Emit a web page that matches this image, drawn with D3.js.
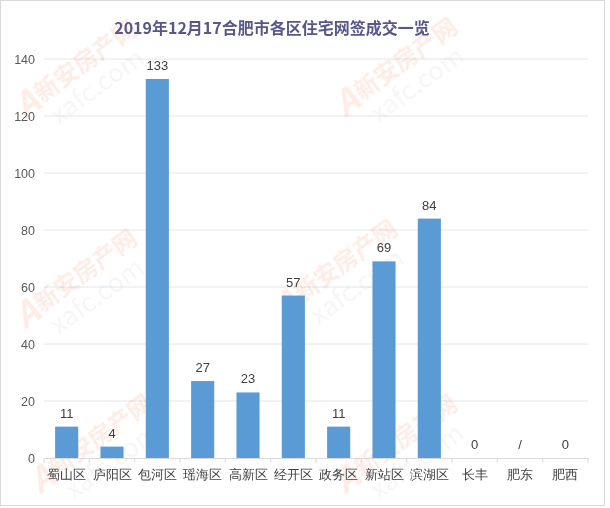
<!DOCTYPE html>
<html>
<head>
<meta charset="utf-8">
<script src="https://cdn.jsdelivr.net/npm/d3@7"></script>
<style>
  body { margin: 0; background: #fff; }
  svg { font-family: "Noto Sans CJK SC", "Liberation Sans", sans-serif; }
</style>
</head>
<body>
<svg id="chart"></svg>
<script>
const categories = ["蜀山区", "庐阳区", "包河区", "瑶海区", "高新区", "经开区", "政务区", "新站区", "滨湖区", "长丰", "肥东", "肥西"];
const values = [11, 4, 133, 27, 23, 57, 11, 69, 84, 0, null, 0];
const valueLabels = ["11", "4", "133", "27", "23", "57", "11", "69", "84", "0", "/", "0"];
const yTicks = [0, 20, 40, 60, 80, 100, 120, 140];
const title = "2019年12月17合肥市各区住宅网签成交一览";

const w = 610, h = 508;
const margin = { top: 59, right: 22, bottom: 50, left: 44 };

const svg = d3.select("#chart").attr("width", w).attr("height", h);

// frame
svg.append("rect")
  .attr("x", 0.5).attr("y", 0.5)
  .attr("width", w - 6).attr("height", h - 3)
  .attr("fill", "#fff").attr("stroke", "#d9d9d9");

const xscale = d3.scaleBand()
  .domain(categories)
  .range([margin.left, w - margin.right])
  .paddingInner(0.49)
  .paddingOuter(0.245);

const yscale = d3.scaleLinear()
  .domain([0, 140])
  .range([h - margin.bottom, margin.top]);

// gridlines
svg.append("g")
  .selectAll("line")
  .data(yTicks.filter(d => d > 0))
  .join("line")
  .attr("x1", margin.left).attr("x2", w - margin.right)
  .attr("y1", d => yscale(d)).attr("y2", d => yscale(d))
  .attr("stroke", "#e3e6ec").attr("stroke-width", 1);

// watermark
const wm = svg.append("g").attr("opacity", 0.12).attr("fill", "#f0642a");
[[25, 120], [345, 118], [25, 330], [285, 320], [40, 495], [345, 495]].forEach(([x, y]) => {
  const g = wm.append("g").attr("transform", `translate(${x},${y}) rotate(-36)`);
  g.append("text").attr("font-size", 34).attr("font-weight", "bold").attr("font-style", "italic").text("A");
  g.append("text").attr("x", 24).attr("y", -4).attr("font-size", 24).attr("font-weight", "bold").text("新安房产网");
  g.append("text").attr("x", 24).attr("y", 24).attr("font-size", 26).attr("fill", "#b0b0b0").text("xafc.com");
});

// y axis
const yAxis = d3.axisLeft(yscale).tickValues(yTicks).tickSize(0).tickPadding(9);
svg.append("g")
  .attr("transform", `translate(${margin.left},0)`)
  .call(yAxis)
  .call(g => g.select(".domain").remove())
  .call(g => g.selectAll("text")
    .attr("fill", "#595959")
    .attr("font-size", 12.5)
    .attr("font-family", "Liberation Sans, sans-serif"));

// x axis
const xAxis = d3.axisBottom(xscale).tickSize(0).tickPadding(12).tickSizeOuter(0);
const xg = svg.append("g")
  .attr("transform", `translate(0,${yscale(0)})`)
  .call(xAxis);
xg.select(".domain").attr("stroke", "#d9d9d9");
xg.selectAll("text").attr("fill", "#404040").attr("font-size", 12.5);
xg.selectAll(".sep")
  .data(d3.range(categories.length + 1))
  .join("line")
  .attr("class", "sep")
  .attr("x1", i => margin.left + i * xscale.step())
  .attr("x2", i => margin.left + i * xscale.step())
  .attr("y1", 0).attr("y2", 5)
  .attr("stroke", "#d9d9d9");

// bars
svg.append("g")
  .attr("fill", "#5b9bd5")
  .selectAll("rect")
  .data(categories.keys())
  .join("rect")
  .attr("x", i => xscale(categories[i]))
  .attr("y", i => yscale(values[i] || 0))
  .attr("width", xscale.bandwidth())
  .attr("height", i => yscale(0) - yscale(values[i] || 0));

// value labels
svg.append("g")
  .selectAll("text")
  .data(categories.keys())
  .join("text")
  .attr("x", i => xscale(categories[i]) + xscale.bandwidth() / 2)
  .attr("y", i => yscale(values[i] || 0) - 9)
  .attr("text-anchor", "middle")
  .attr("fill", "#404040")
  .attr("font-size", 13)
  .attr("font-family", "Liberation Sans, sans-serif")
  .text(i => valueLabels[i]);

// title
svg.append("text")
  .attr("x", 272).attr("y", 34)
  .attr("text-anchor", "middle")
  .attr("font-size", 16)
  .attr("font-weight", "bold")
  .attr("fill", "#57578a")
  .text(title);
</script>
</body>
</html>
